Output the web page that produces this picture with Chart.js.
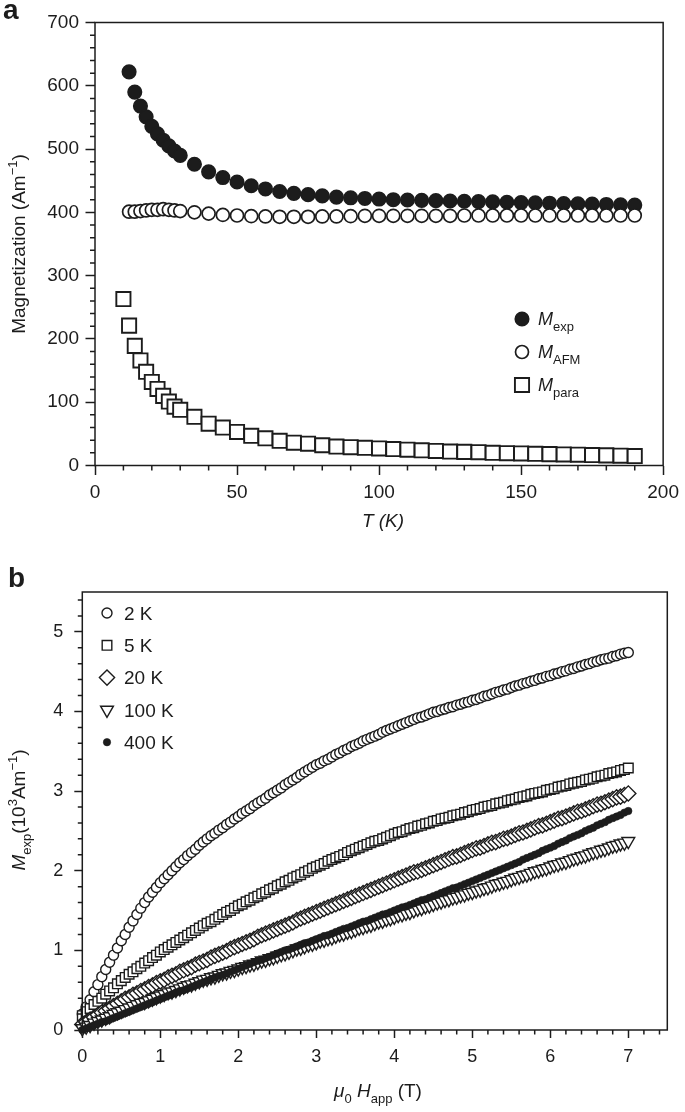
<!DOCTYPE html>
<html>
<head>
<meta charset="utf-8">
<title>Magnetization</title>
<script src="https://cdn.jsdelivr.net/npm/chart.js@4.4.1/dist/chart.umd.min.js"></script>
<style>
    html, body { margin: 0; padding: 0; background: #fff; }
    #page { position: relative; width: 685px; height: 1112px; }
    canvas { position: absolute; left: 0; }
    #chart-a { top: 0; }
    #chart-b { top: 555px; }
</style>
</head>
<body>
<div id="page">
    <canvas id="chart-a" width="685" height="555"></canvas>
    <canvas id="chart-b" width="685" height="557"></canvas>
</div>
<script>
const FONT = '"Liberation Sans", Arial, Helvetica, sans-serif';
const INK = '#1c1c1c';

// ─── Panel a: magnetization vs temperature ─────────────────────

const tempPara = [10, 12, 14, 16, 18, 20, 22, 24, 26, 28, 30,
    35, 40, 45, 50, 55, 60, 65, 70, 75, 80, 85, 90, 95, 100,
    105, 110, 115, 120, 125, 130, 135, 140, 145, 150, 155, 160,
    165, 170, 175, 180, 185, 190];
const tempFit = [12, 14, 16, 18, 20, 22, 24, 26, 28, 30,
    35, 40, 45, 50, 55, 60, 65, 70, 75, 80, 85, 90, 95, 100,
    105, 110, 115, 120, 125, 130, 135, 140, 145, 150, 155, 160,
    165, 170, 175, 180, 185, 190];

const mExp = [622, 590, 568, 551, 536, 524, 514, 505, 497, 490,
    476, 464, 455, 448, 442, 437, 433, 430, 428, 426, 424, 423, 422, 421,
    420, 419.5, 419, 418.5, 418, 417.5, 417, 416.5, 416, 415.5, 415, 414.5,
    414, 413.5, 413, 412.5, 412, 411.5];
const mAfm = [401, 401, 402, 403, 404, 404, 405, 404, 403, 402,
    400, 398, 396, 395, 394, 393.5, 393, 393, 393, 393.5, 393.5, 394, 394.5, 394.5,
    394.5, 394.5, 394.5, 394.5, 394.5, 395, 395, 395, 395, 395, 395, 395,
    395, 395, 395, 395, 395, 395];
const mPara = [263, 221, 189, 166, 148, 132, 121, 110, 101, 93, 88,
    77, 66, 60, 53, 47, 43, 39, 36, 34.5, 32, 30, 29, 28, 27,
    26, 25, 24, 23, 22, 21.5, 21, 20, 19.5, 19, 18.5, 18,
    17.5, 17, 16.5, 16, 15.5, 15];

const subscriptsA = ['exp', 'AFM', 'para'];

// ─── Panel b: magnetization vs applied field ───────────────────

const fieldT = [
    0, 0.05, 0.1, 0.15, 0.2, 0.25, 0.3, 0.35, 0.4, 0.45,
    0.5, 0.55, 0.6, 0.65, 0.7, 0.75, 0.8, 0.85, 0.9, 0.95,
    1, 1.05, 1.1, 1.15, 1.2, 1.25, 1.3, 1.35, 1.4, 1.45,
    1.5, 1.55, 1.6, 1.65, 1.7, 1.75, 1.8, 1.85, 1.9, 1.95,
    2, 2.05, 2.1, 2.15, 2.2, 2.25, 2.3, 2.35, 2.4, 2.45,
    2.5, 2.55, 2.6, 2.65, 2.7, 2.75, 2.8, 2.85, 2.9, 2.95,
    3, 3.05, 3.1, 3.15, 3.2, 3.25, 3.3, 3.35, 3.4, 3.45,
    3.5, 3.55, 3.6, 3.65, 3.7, 3.75, 3.8, 3.85, 3.9, 3.95,
    4, 4.05, 4.1, 4.15, 4.2, 4.25, 4.3, 4.35, 4.4, 4.45,
    4.5, 4.55, 4.6, 4.65, 4.7, 4.75, 4.8, 4.85, 4.9, 4.95,
    5, 5.05, 5.1, 5.15, 5.2, 5.25, 5.3, 5.35, 5.4, 5.45,
    5.5, 5.55, 5.6, 5.65, 5.7, 5.75, 5.8, 5.85, 5.9, 5.95,
    6, 6.05, 6.1, 6.15, 6.2, 6.25, 6.3, 6.35, 6.4, 6.45,
    6.5, 6.55, 6.6, 6.65, 6.7, 6.75, 6.8, 6.85, 6.9, 6.95,
    7];

const m2K = [
    0.20, 0.29, 0.38, 0.48, 0.57, 0.67, 0.76, 0.85, 0.94, 1.03,
    1.12, 1.20, 1.29, 1.37, 1.45, 1.53, 1.60, 1.67, 1.73, 1.79,
    1.85, 1.90, 1.95, 2.00, 2.05, 2.10, 2.14, 2.19, 2.23, 2.27,
    2.32, 2.36, 2.40, 2.44, 2.47, 2.51, 2.54, 2.58, 2.61, 2.65,
    2.68, 2.72, 2.75, 2.78, 2.82, 2.85, 2.88, 2.91, 2.95, 2.98,
    3.01, 3.04, 3.08, 3.11, 3.14, 3.17, 3.21, 3.24, 3.27, 3.30,
    3.33, 3.35, 3.38, 3.40, 3.43, 3.46, 3.48, 3.51, 3.53, 3.56,
    3.58, 3.60, 3.63, 3.65, 3.67, 3.69, 3.71, 3.74, 3.76, 3.78,
    3.80, 3.82, 3.84, 3.86, 3.88, 3.90, 3.92, 3.93, 3.95, 3.97,
    3.99, 4.00, 4.02, 4.03, 4.05, 4.06, 4.08, 4.09, 4.11, 4.12,
    4.14, 4.15, 4.17, 4.19, 4.20, 4.22, 4.24, 4.25, 4.27, 4.28,
    4.30, 4.32, 4.33, 4.35, 4.36, 4.38, 4.39, 4.41, 4.42, 4.44,
    4.45, 4.47, 4.48, 4.50, 4.51, 4.53, 4.54, 4.56, 4.57, 4.59,
    4.60, 4.62, 4.63, 4.65, 4.66, 4.67, 4.69, 4.70, 4.72, 4.73,
    4.74];
const m5K = [
    0.18, 0.23, 0.27, 0.32, 0.36, 0.40, 0.45, 0.49, 0.53, 0.58,
    0.62, 0.66, 0.70, 0.73, 0.77, 0.80, 0.84, 0.87, 0.91, 0.94,
    0.98, 1.01, 1.04, 1.07, 1.10, 1.13, 1.16, 1.19, 1.22, 1.25,
    1.28, 1.31, 1.34, 1.36, 1.39, 1.42, 1.45, 1.48, 1.50, 1.53,
    1.56, 1.58, 1.61, 1.63, 1.66, 1.68, 1.71, 1.73, 1.76, 1.78,
    1.81, 1.83, 1.86, 1.88, 1.91, 1.93, 1.95, 1.98, 2.00, 2.03,
    2.05, 2.07, 2.09, 2.12, 2.14, 2.16, 2.18, 2.20, 2.23, 2.25,
    2.27, 2.29, 2.31, 2.33, 2.35, 2.37, 2.38, 2.40, 2.42, 2.44,
    2.46, 2.48, 2.49, 2.51, 2.53, 2.54, 2.56, 2.57, 2.59, 2.60,
    2.62, 2.63, 2.65, 2.66, 2.67, 2.69, 2.70, 2.71, 2.73, 2.74,
    2.76, 2.77, 2.78, 2.80, 2.81, 2.82, 2.84, 2.85, 2.86, 2.88,
    2.89, 2.90, 2.92, 2.93, 2.94, 2.96, 2.97, 2.98, 2.99, 3.01,
    3.02, 3.03, 3.05, 3.06, 3.07, 3.09, 3.10, 3.11, 3.12, 3.14,
    3.15, 3.16, 3.18, 3.19, 3.20, 3.22, 3.23, 3.24, 3.26, 3.27,
    3.29];
const m20K = [
    0.07, 0.10, 0.13, 0.16, 0.19, 0.22, 0.24, 0.27, 0.30, 0.33,
    0.36, 0.39, 0.41, 0.44, 0.46, 0.49, 0.51, 0.54, 0.56, 0.59,
    0.61, 0.63, 0.66, 0.68, 0.70, 0.73, 0.75, 0.77, 0.79, 0.82,
    0.84, 0.86, 0.88, 0.91, 0.93, 0.95, 0.97, 0.99, 1.02, 1.04,
    1.06, 1.08, 1.10, 1.12, 1.14, 1.17, 1.19, 1.21, 1.23, 1.25,
    1.27, 1.29, 1.31, 1.33, 1.35, 1.38, 1.40, 1.42, 1.44, 1.46,
    1.48, 1.50, 1.52, 1.54, 1.56, 1.58, 1.60, 1.62, 1.64, 1.66,
    1.68, 1.70, 1.72, 1.74, 1.76, 1.78, 1.80, 1.82, 1.84, 1.86,
    1.88, 1.90, 1.92, 1.94, 1.96, 1.98, 1.99, 2.01, 2.03, 2.05,
    2.07, 2.09, 2.11, 2.13, 2.15, 2.17, 2.18, 2.20, 2.22, 2.24,
    2.26, 2.28, 2.29, 2.31, 2.33, 2.35, 2.36, 2.38, 2.40, 2.41,
    2.43, 2.45, 2.47, 2.48, 2.50, 2.52, 2.54, 2.56, 2.57, 2.59,
    2.61, 2.63, 2.65, 2.66, 2.68, 2.70, 2.72, 2.74, 2.75, 2.77,
    2.79, 2.81, 2.83, 2.84, 2.86, 2.88, 2.90, 2.92, 2.93, 2.95,
    2.97];
const m100K = [
    0.02, 0.04, 0.06, 0.09, 0.11, 0.13, 0.15, 0.17, 0.20, 0.22,
    0.24, 0.26, 0.28, 0.30, 0.32, 0.34, 0.35, 0.37, 0.39, 0.41,
    0.43, 0.45, 0.47, 0.48, 0.50, 0.52, 0.54, 0.56, 0.57, 0.59,
    0.61, 0.63, 0.64, 0.66, 0.67, 0.69, 0.71, 0.72, 0.74, 0.75,
    0.77, 0.79, 0.80, 0.82, 0.83, 0.85, 0.87, 0.88, 0.90, 0.91,
    0.93, 0.95, 0.96, 0.98, 1.00, 1.02, 1.03, 1.05, 1.07, 1.08,
    1.10, 1.12, 1.13, 1.15, 1.16, 1.18, 1.20, 1.21, 1.23, 1.24,
    1.26, 1.28, 1.29, 1.31, 1.32, 1.34, 1.36, 1.37, 1.39, 1.40,
    1.42, 1.44, 1.45, 1.47, 1.48, 1.50, 1.52, 1.53, 1.55, 1.56,
    1.58, 1.60, 1.61, 1.63, 1.64, 1.66, 1.67, 1.69, 1.70, 1.72,
    1.73, 1.75, 1.76, 1.78, 1.79, 1.81, 1.83, 1.84, 1.86, 1.87,
    1.89, 1.91, 1.92, 1.94, 1.95, 1.97, 1.99, 2.00, 2.02, 2.03,
    2.05, 2.07, 2.08, 2.10, 2.11, 2.13, 2.15, 2.16, 2.18, 2.19,
    2.21, 2.23, 2.24, 2.26, 2.27, 2.29, 2.31, 2.32, 2.34, 2.35,
    2.37];
const m400K = [
    0.00, 0.02, 0.04, 0.06, 0.08, 0.10, 0.11, 0.13, 0.15, 0.17,
    0.19, 0.21, 0.23, 0.25, 0.27, 0.29, 0.31, 0.33, 0.35, 0.37,
    0.39, 0.41, 0.43, 0.45, 0.47, 0.49, 0.50, 0.52, 0.54, 0.56,
    0.58, 0.60, 0.62, 0.64, 0.66, 0.68, 0.69, 0.71, 0.73, 0.75,
    0.77, 0.79, 0.81, 0.83, 0.85, 0.87, 0.88, 0.90, 0.92, 0.94,
    0.96, 0.98, 1.00, 1.01, 1.03, 1.05, 1.07, 1.09, 1.10, 1.12,
    1.14, 1.16, 1.18, 1.19, 1.21, 1.23, 1.25, 1.27, 1.28, 1.30,
    1.32, 1.34, 1.36, 1.37, 1.39, 1.41, 1.43, 1.45, 1.46, 1.48,
    1.50, 1.52, 1.54, 1.55, 1.57, 1.59, 1.61, 1.63, 1.64, 1.66,
    1.68, 1.70, 1.72, 1.74, 1.76, 1.78, 1.79, 1.81, 1.83, 1.85,
    1.87, 1.89, 1.91, 1.93, 1.95, 1.97, 1.99, 2.01, 2.03, 2.05,
    2.07, 2.09, 2.11, 2.14, 2.16, 2.18, 2.20, 2.22, 2.25, 2.27,
    2.29, 2.31, 2.34, 2.36, 2.38, 2.41, 2.43, 2.45, 2.47, 2.50,
    2.52, 2.54, 2.57, 2.59, 2.61, 2.64, 2.66, 2.68, 2.70, 2.73,
    2.75];

const labelsB = ['2 K', '5 K', '20 K', '100 K', '400 K'];

// ─── Helpers ───────────────────────────────────────────────────

function toXY(xs, ys) {
    return xs.map((x, i) => ({ x, y: ys[i] }));
}

// Text with italic / subscript / superscript runs, centred vertically on y.
function drawRich(ctx, runs, x, y, o) {
    const small = o.small || Math.round(o.size * 0.7);
    const fontOf = r => `${r.it ? 'italic ' : ''}${r.bold ? 'bold ' : ''}${(r.sub || r.sup) ? small : o.size}px ${FONT}`;
    const widths = runs.map(r => { ctx.font = fontOf(r); return ctx.measureText(r.t).width; });
    const total = widths.reduce((a, b) => a + b, 0);
    ctx.save();
    ctx.translate(x, y);
    if (o.rotate) ctx.rotate(o.rotate);
    ctx.fillStyle = INK;
    ctx.textBaseline = 'alphabetic';
    ctx.textAlign = 'left';
    let cx = o.align === 'left' ? 0 : -total / 2;
    const base = o.size * 0.36;
    runs.forEach((r, i) => {
        ctx.font = fontOf(r);
        const dy = r.sub ? o.size * 0.3 : r.sup ? -o.size * 0.42 : 0;
        ctx.fillText(r.t, cx, base + dy);
        cx += widths[i];
    });
    ctx.restore();
}

function markerAt(ctx, ds, x, y) {
    ctx.save();
    ctx.fillStyle = ds.pointBackgroundColor;
    ctx.strokeStyle = ds.pointBorderColor;
    ctx.lineWidth = ds.pointBorderWidth;
    Chart.helpers.drawPoint(ctx, {
        pointStyle: ds.pointStyle,
        radius: ds.pointRadius,
        rotation: ds.pointRotation || 0,
        borderWidth: ds.pointBorderWidth
    }, x, y);
    ctx.restore();
}

// Frame, minor ticks, titles, panel letter and the inset legend.
const panelDecor = {
    id: 'panelDecor',
    afterDraw(chart, args, o) {
        const ctx = chart.ctx;
        const { left, right, top, bottom } = chart.chartArea;
        const xs = chart.scales.x, ys = chart.scales.y;
        ctx.save();
        ctx.strokeStyle = INK;
        ctx.lineWidth = 1.5;
        ctx.strokeRect(left, top, right - left, bottom - top);

        const isMajor = (v, step) => Math.abs(v / step - Math.round(v / step)) < 1e-6;
        ctx.beginPath();
        let n = Math.floor((xs.max - xs.min) / o.minorX + 1e-6);
        for (let i = 0; i <= n; i++) {
            const v = xs.min + i * o.minorX;
            if (isMajor(v, o.majorX)) continue;
            const px = xs.getPixelForValue(v);
            ctx.moveTo(px, bottom);
            ctx.lineTo(px, bottom + o.minorLen);
        }
        n = Math.floor((ys.max - ys.min) / o.minorY + 1e-6);
        for (let i = 0; i <= n; i++) {
            const v = ys.min + i * o.minorY;
            if (isMajor(v, o.majorY)) continue;
            const py = ys.getPixelForValue(v);
            ctx.moveTo(left, py);
            ctx.lineTo(left - o.minorLen, py);
        }
        ctx.stroke();
        ctx.restore();

        drawRich(ctx, [{ t: o.letter, bold: true }], o.letterX, o.letterY, { size: 28, align: 'left' });
        drawRich(ctx, o.xTitle.runs, o.xTitle.x, o.xTitle.y, o.xTitle);
        drawRich(ctx, o.yTitle.runs, o.yTitle.x, o.yTitle.y, { ...o.yTitle, rotate: -Math.PI / 2 });

        const lg = o.legend;
        lg.rows.forEach((runs, i) => {
            const y = lg.y + i * lg.dy;
            markerAt(ctx, chart.data.datasets[i], lg.x, y);
            drawRich(ctx, runs, lg.textX, y, { size: lg.size, small: lg.small, align: 'left' });
        });
    }
};

function axisOpts(min, max, step, size, pad, tickLen, fitFn) {
    return {
        type: 'linear',
        min, max,
        afterFit: fitFn,
        ticks: {
            stepSize: step,
            includeBounds: false,
            padding: pad,
            color: INK,
            maxRotation: 0,
            font: { family: FONT, size }
        },
        grid: {
            drawOnChartArea: false,
            drawTicks: true,
            tickLength: tickLen,
            tickColor: INK,
            tickWidth: 1.5
        },
        border: { display: false }
    };
}

const baseOpts = {
    responsive: false,
    animation: false,
    events: [],
    plugins: { legend: { display: false }, tooltip: { enabled: false } }
};

// ─── Chart a ───────────────────────────────────────────────────

new Chart(document.getElementById('chart-a'), {
    type: 'scatter',
    data: {
        datasets: [
            { label: 'M_exp', data: toXY(tempFit, mExp), order: 1, clip: false,
              pointStyle: 'circle', pointRadius: 6.8, pointBorderWidth: 1.5,
              pointBackgroundColor: INK, pointBorderColor: INK },
            { label: 'M_AFM', data: toXY(tempFit, mAfm), order: 0, clip: false,
              pointStyle: 'circle', pointRadius: 6.5, pointBorderWidth: 1.7,
              pointBackgroundColor: '#fff', pointBorderColor: INK },
            { label: 'M_para', data: toXY(tempPara, mPara), order: 2, clip: false,
              pointStyle: 'rect', pointRadius: 10, pointBorderWidth: 1.9,
              pointBackgroundColor: '#fff', pointBorderColor: INK }
        ]
    },
    options: {
        ...baseOpts,
        layout: { padding: { top: 22.5, right: 17, bottom: 0, left: 0 } },
        plugins: {
            ...baseOpts.plugins,
            panelDecor: {
                letter: 'a', letterX: 3, letterY: 9,
                minorX: 10, majorX: 50, minorY: 20, majorY: 100, minorLen: 5,
                xTitle: { runs: [{ t: 'T (K)', it: true }], x: 383, y: 520, size: 19 },
                yTitle: { runs: [{ t: 'Magnetization (Am' }, { t: '\u22121', sup: true }, { t: ')' }],
                          x: 18, y: 244, size: 19, small: 13 },
                legend: {
                    x: 522, textX: 538, y: 319, dy: 33, size: 18, small: 13,
                    rows: subscriptsA.map(s => [{ t: 'M', it: true }, { t: s, sub: true }])
                }
            }
        },
        scales: {
            x: axisOpts(0, 200, 50, 19, 6, 9.5, s => { s.height = 89.5; }),
            y: axisOpts(0, 700, 100, 19, 6.5, 9.5, s => { s.width = 95; })
        }
    },
    plugins: [panelDecor]
});

// ─── Chart b ───────────────────────────────────────────────────

const openStyle = { pointBackgroundColor: '#fff', pointBorderColor: INK, pointBorderWidth: 1.4, clip: false };

new Chart(document.getElementById('chart-b'), {
    type: 'scatter',
    data: {
        datasets: [
            { label: labelsB[0], data: toXY(fieldT, m2K), order: 4, pointStyle: 'circle', pointRadius: 5, ...openStyle },
            { label: labelsB[1], data: toXY(fieldT, m5K), order: 3, pointStyle: 'rect', pointRadius: 6.8, ...openStyle },
            { label: labelsB[2], data: toXY(fieldT, m20K), order: 2, pointStyle: 'rectRot', pointRadius: 7.6, ...openStyle },
            { label: labelsB[3], data: toXY(fieldT, m100K), order: 1, pointStyle: 'triangle', pointRotation: 180, pointRadius: 7.4, ...openStyle },
            { label: labelsB[4], data: toXY(fieldT, m400K), order: 0, pointStyle: 'circle', pointRadius: 3.7,
              pointBackgroundColor: INK, pointBorderColor: INK, pointBorderWidth: 0.6, clip: false }
        ]
    },
    options: {
        ...baseOpts,
        layout: { padding: { top: 37, right: 17.7, bottom: 0, left: 0 } },
        plugins: {
            ...baseOpts.plugins,
            panelDecor: {
                letter: 'b', letterX: 8, letterY: 22,
                minorX: 0.2, majorX: 1, minorY: 0.2, majorY: 1, minorLen: 4.5,
                xTitle: { runs: [{ t: '\u03bc', it: true }, { t: '0', sub: true }, { t: ' ' },
                                 { t: 'H', it: true }, { t: 'app', sub: true }, { t: ' (T)' }],
                          x: 378, y: 535, size: 19, small: 13 },
                yTitle: { runs: [{ t: 'M', it: true }, { t: 'exp', sub: true }, { t: '(10' },
                                 { t: '3', sup: true }, { t: 'Am' }, { t: '\u22121', sup: true }, { t: ')' }],
                          x: 18, y: 255, size: 19, small: 13 },
                legend: {
                    x: 107, textX: 124, y: 58, dy: 32.3, size: 19, small: 13,
                    rows: labelsB.map(t => [{ t }])
                }
            }
        },
        scales: {
            x: axisOpts(0, 7.5, 1, 18, 8, 8, s => { s.height = 82; }),
            y: axisOpts(0, 5.5, 1, 18, 11, 8, s => { s.width = 82.3; })
        }
    },
    plugins: [panelDecor]
});
</script>
</body>
</html>
